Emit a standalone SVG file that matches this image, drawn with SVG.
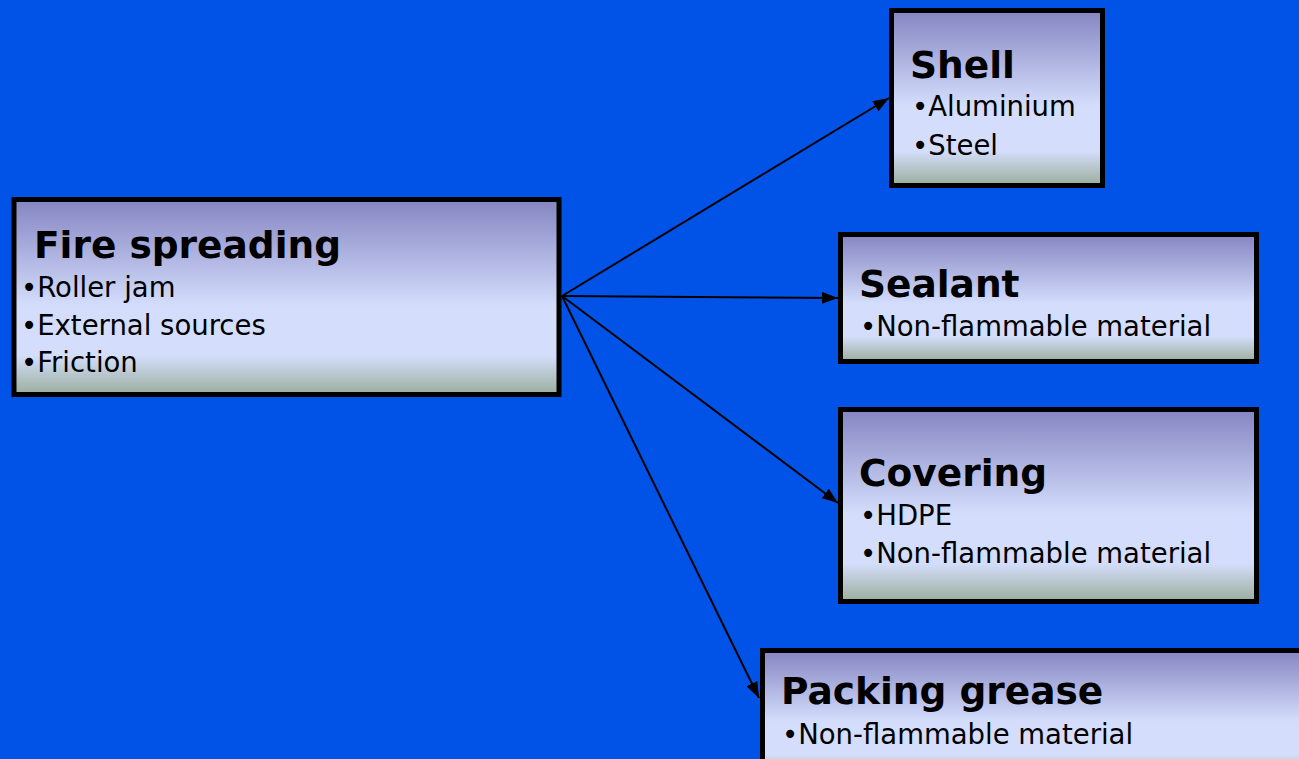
<svg xmlns="http://www.w3.org/2000/svg" width="1299" height="759" viewBox="0 0 1299 759">
<defs>
<linearGradient id="g" x1="0" y1="0" x2="0" y2="1">
<stop offset="0" stop-color="#8585c2"/>
<stop offset="0.5" stop-color="#cdd6f7"/>
<stop offset="0.55" stop-color="#d4defc"/>
<stop offset="0.8" stop-color="#d4defc"/>
<stop offset="1" stop-color="#9aae9c"/>
</linearGradient>
<marker id="ah" viewBox="0 0 16 12" refX="16" refY="6" markerWidth="16" markerHeight="12" markerUnits="userSpaceOnUse" orient="auto">
<path d="M0,0 L16,6 L0,12 Z" fill="#000"/>
</marker>
<style>
.box{fill:url(#g);stroke:#000;stroke-width:5}
.t{font-family:"DejaVu Sans",Verdana,sans-serif;font-weight:bold;font-size:37.5px;fill:#000}
.b{font-family:"DejaVu Sans",Verdana,sans-serif;font-size:27.5px;fill:#000}
.c{stroke:#000;stroke-width:2;fill:none;marker-end:url(#ah)}
</style>
</defs>
<rect width="1299" height="759" fill="#0053e6"/>
<g id="connectors">
<line class="c" x1="562" y1="296" x2="889" y2="98"/>
<line class="c" x1="562" y1="296" x2="838" y2="298"/>
<line class="c" x1="562" y1="296" x2="838" y2="503"/>
<line class="c" x1="562" y1="296" x2="759" y2="698"/>
</g>
<g id="fire">
<rect class="box" x="14" y="199.5" width="545" height="195"/>
<text class="t" x="34" y="258">Fire spreading</text>
<text class="b" x="21" y="297">•Roller jam</text>
<text class="b" x="21" y="335">•External sources</text>
<text class="b" x="21" y="372">•Friction</text>
</g>
<g id="shell">
<rect class="box" x="891.5" y="10.5" width="211" height="175"/>
<text class="t" x="910" y="78">Shell</text>
<text class="b" x="912" y="116">•Aluminium</text>
<text class="b" x="912" y="155">•Steel</text>
</g>
<g id="sealant">
<rect class="box" x="840.5" y="234.5" width="416" height="127"/>
<text class="t" x="859" y="297">Sealant</text>
<text class="b" x="860" y="336">•Non-flammable material</text>
</g>
<g id="covering">
<rect class="box" x="840.5" y="409.5" width="416" height="192"/>
<text class="t" x="859" y="486">Covering</text>
<text class="b" x="860" y="525">•HDPE</text>
<text class="b" x="860" y="563">•Non-flammable material</text>
</g>
<g id="packing">
<rect class="box" x="762.5" y="650.5" width="560" height="130"/>
<text class="t" x="781" y="704">Packing grease</text>
<text class="b" x="782" y="744">•Non-flammable material</text>
</g>
</svg>
